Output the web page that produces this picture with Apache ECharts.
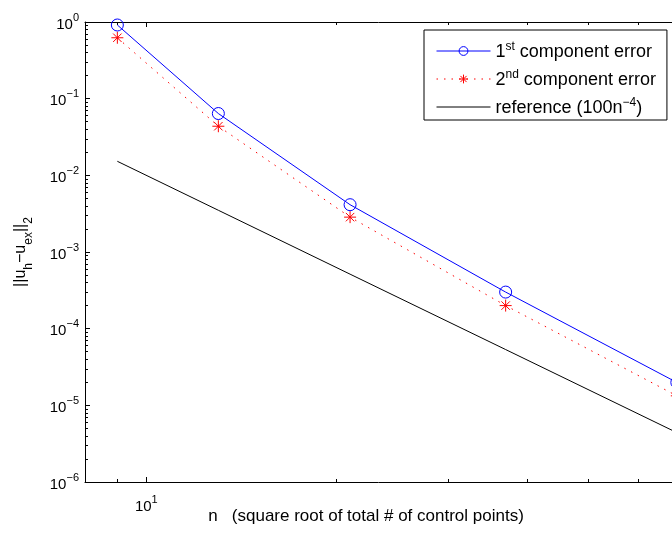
<!DOCTYPE html>
<html>
<head>
<meta charset="utf-8">
<script src="https://cdn.jsdelivr.net/npm/echarts@6/dist/echarts.min.js"></script>
<style>
  html, body { margin: 0; padding: 0; background: #fff; }
  #chart { width: 672px; height: 540px; }
</style>
</head>
<body>
<div id="chart"></div>
<script>
// n = square root of total number of control points
var nValues = [9, 13, 21, 37, 69];
var err1 = [0.914, 0.064, 0.00414, 3.0e-4, 1.99e-5];   // 1st component
var err2 = [0.623, 0.0437, 0.00285, 2.0e-4, 1.33e-5];  // 2nd component
var refLine = [0.01524, 0.003501, 0.000514, 5.34e-5, 4.41e-6]; // 100 n^-4

var xMajor = [10];
var xMinor = [9, 20, 30, 40, 50, 60];
var yMajor = [1e-6, 1e-5, 1e-4, 1e-3, 1e-2, 1e-1, 1];
var yMinor = [];
for (var d = -6; d < 0; d++) {
  for (var k = 2; k <= 9; k++) yMinor.push(k * Math.pow(10, d));
}

var FONT = 'Liberation Sans, Arial, Helvetica, sans-serif';

function pairs(xs, ys) {
  return xs.map(function (x, i) { return [x, ys[i]]; });
}

function powLabel(v) {
  var e = Math.round(Math.log10(v));
  return '{b|10}{s|' + String(e).replace('-', '\u2212') + '}';
}

var supRich = {
  b: { fontSize: 15, lineHeight: 20, verticalAlign: 'bottom', color: '#000', fontFamily: FONT },
  s: { fontSize: 11, lineHeight: 11, verticalAlign: 'top', color: '#000', fontFamily: FONT }
};

// the original axes run past the right edge of the picture
var xBase = { type: 'log', min: 8, max: 67.8, splitLine: { show: false } };
var yBase = { type: 'log', min: 1e-6, max: 1, splitLine: { show: false } };

var asterisk = 'path://M5,0L5,10M0,5L10,5M1.5,1.5L8.5,8.5M1.5,8.5L8.5,1.5';

var chart = echarts.init(document.getElementById('chart'));

var option = {
  animation: false,
  backgroundColor: '#fff',
  grid: { left: 85, top: 22, bottom: 58, right: 0, containLabel: false },
  xAxis: [
    Object.assign({}, xBase, {
      position: 'bottom',
      axisLine: { show: true, lineStyle: { color: '#000', width: 1 } },
      axisTick: { show: true, inside: true, length: 5, customValues: xMajor, lineStyle: { color: '#000' } },
      axisLabel: { show: true, margin: 12, customValues: xMajor, formatter: powLabel, rich: supRich }
    }),
    Object.assign({}, xBase, {
      position: 'bottom',
      axisLine: { show: false },
      axisTick: { show: true, inside: true, length: 3, customValues: xMinor, lineStyle: { color: '#000' } },
      axisLabel: { show: false }
    }),
    Object.assign({}, xBase, {
      position: 'top',
      axisLine: { show: true, lineStyle: { color: '#000', width: 1 } },
      axisTick: { show: true, inside: true, length: 5, customValues: xMajor, lineStyle: { color: '#000' } },
      axisLabel: { show: false }
    }),
    Object.assign({}, xBase, {
      position: 'top',
      axisLine: { show: false },
      axisTick: { show: true, inside: true, length: 3, customValues: xMinor, lineStyle: { color: '#000' } },
      axisLabel: { show: false }
    })
  ],
  yAxis: [
    Object.assign({}, yBase, {
      position: 'left',
      name: '{t|||u}{d|h}{t|\u2212u}{d|ex}{t|||}{d|2}',
      nameLocation: 'middle',
      nameGap: 50,
      nameRotate: 90,
      nameTextStyle: {
        rich: {
          t: { fontSize: 16, lineHeight: 22, verticalAlign: 'top', color: '#000', fontFamily: FONT },
          d: { fontSize: 12, lineHeight: 22, verticalAlign: 'bottom', color: '#000', fontFamily: FONT }
        }
      },
      axisLine: { show: true, lineStyle: { color: '#000', width: 1 } },
      axisTick: { show: true, inside: true, length: 5, customValues: yMajor, lineStyle: { color: '#000' } },
      axisLabel: { show: true, margin: 6, customValues: yMajor, formatter: powLabel, rich: supRich }
    }),
    Object.assign({}, yBase, {
      position: 'left',
      axisLine: { show: false },
      axisTick: { show: true, inside: true, length: 3, customValues: yMinor, lineStyle: { color: '#000' } },
      axisLabel: { show: false }
    })
  ],
  legend: {
    orient: 'vertical',
    left: 424,
    top: 30,
    padding: [11, 11, 3, 12],
    itemGap: 8,
    itemWidth: 54,
    itemHeight: 11,
    backgroundColor: '#fff',
    borderColor: '#000',
    borderWidth: 1,
    borderRadius: 0,
    lineStyle: { width: 1 },
    itemStyle: { borderWidth: 1 },
    data: [
      { name: '1st component error' },
      { name: '2nd component error' },
      { name: 'reference (100n^-4)', itemStyle: { opacity: 0 } }
    ],
    formatter: function (name) {
      if (name.indexOf('1st') === 0) return '{t|1}{s|st}{t| component error}';
      if (name.indexOf('2nd') === 0) return '{t|2}{s|nd}{t| component error}';
      return '{t|reference (100n}{s|\u22124}{t|)}';
    },
    textStyle: {
      rich: {
        t: { fontSize: 18, lineHeight: 20, verticalAlign: 'bottom', color: '#000', fontFamily: FONT },
        s: { fontSize: 12, lineHeight: 12, verticalAlign: 'top', color: '#000', fontFamily: FONT }
      }
    }
  },
  graphic: [{
    type: 'text',
    x: 366,
    y: 516,
    style: {
      text: 'n   (square root of total # of control points)',
      fontSize: 17,
      fontFamily: FONT,
      fill: '#000',
      align: 'center',
      verticalAlign: 'middle'
    }
  }],
  series: [
    {
      name: '1st component error',
      type: 'line',
      data: pairs(nValues, err1),
      symbol: 'circle',
      symbolSize: 12,
      clip: false,
      itemStyle: { color: 'rgba(255,255,255,0)', borderColor: '#0000ff', borderWidth: 1 },
      lineStyle: { color: '#0000ff', width: 1 },
      z: 3
    },
    {
      name: '2nd component error',
      type: 'line',
      data: pairs(nValues, err2),
      symbol: asterisk,
      symbolSize: 12,
      clip: false,
      itemStyle: { color: '#ff0000', borderColor: '#ff0000', borderWidth: 1 },
      lineStyle: { color: '#ff0000', width: 1, type: [1.5, 6] },
      z: 2
    },
    {
      name: 'reference (100n^-4)',
      type: 'line',
      data: pairs(nValues, refLine),
      symbol: 'none',
      clip: false,
      itemStyle: { color: '#000' },
      lineStyle: { color: '#000', width: 1 },
      z: 1
    }
  ]
};

chart.setOption(option);
</script>
</body>
</html>
